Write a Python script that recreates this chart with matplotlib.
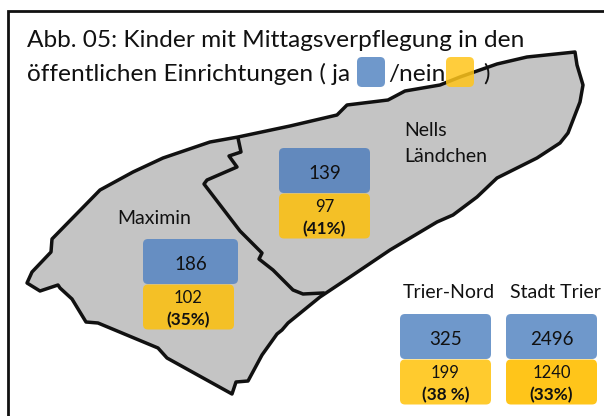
import matplotlib
matplotlib.use("Agg")
import matplotlib.pyplot as plt
from matplotlib.patches import Polygon, FancyBboxPatch

W, H = 604, 416
plt.rcParams['font.family'] = ['Lato', 'DejaVu Sans']

outer_x = [238,290,337,347,388,405,440,460,497,527,575,577,583,580,568,560,537,497,477,453,437,390,350,320,288,282,277,262,248,236,232,167,158,98,86,72,60,58,40,27,32,51,52,100,133,163,210]
outer_y = [137,126,115,105,100,91,85,77,64,57,52,65,85,102,133,143,158,178,197,215,222,250,277,297,323,330,334,355,381,382,394,358,348,323,322,299,288,285,291,283,272,252,239,190,172,158,142]
inner_x = [238,241,229,237,207,204,240,262,259,273,293,303,323]
inner_y = [138,152,156,167,180,184,231,253,259,270,290,294,293]

groups = ['Nells', 'Ländchen', 'Maximin', 'Trier-Nord', 'Stadt Trier']
ja = ['139', '186', '325', '2496']
nein = ['97', '102', '199', '1240']
pct = ['(41%)', '(35%)', '(38 %)', '(33%)']
box_left = [279, 143, 400, 506]
box_top = [148, 239, 314, 314]
blue = ['#6289bd', '#668ec2', '#6f98cb', '#6f98cb']
yellow = ['#f4c026', '#f4c026', '#ffcb2e', '#ffc51a']

fig = plt.figure(figsize=(W/100, H/100), dpi=100)
ax = fig.add_axes([0, 0, 1, 1])
ax.set_xlim(0, W); ax.set_ylim(H, 0); ax.axis('off')
INK = '#111111'

ax.plot([7.5, 7.5, W], [H, 11, 11], color=INK, lw=2.0, solid_joinstyle='miter')
ax.add_patch(Polygon(list(zip(outer_x, outer_y)), closed=True, fc='#c4c4c4', ec=INK, lw=2.5, joinstyle='round'))
ax.plot(inner_x, inner_y, color=INK, lw=2.5, solid_joinstyle='round')

def box(x, y, w, h, c, alpha=1):
    ax.add_patch(FancyBboxPatch((x+4, y+4), w-8, h-8, boxstyle='round,pad=4,rounding_size=5', fc=c, ec='none', alpha=alpha, zorder=3))

def label(x, y, s, fs, ha='left', **kw):
    ax.text(x, y, s, fontsize=fs, va='baseline', ha=ha, color=INK, zorder=5, **kw)

fs_title = 17.6
label(27, 47, 'Abb. 05: Kinder mit Mittagsverpflegung in den', fs_title)
label(27, 81, 'öffentlichen Einrichtungen ( ja', fs_title)
box(357, 57, 28, 30, '#6f98cb')
label(388, 81, '/nein', fs_title)
box(446, 57, 28, 30, '#ffc51a', alpha=0.85)
label(483, 81, ')', fs_title)

label(404, 136, groups[0], 14)
label(404, 162, groups[1], 14)
label(117, 224, groups[2], 14)
label(449, 298, groups[3], 14, ha='center')
label(555, 298, groups[4], 14, ha='center')

for i in range(4):
    x, y = box_left[i], box_top[i]
    w_top = 95 if i == 1 else 91
    box(x, y, w_top, 45, blue[i])
    box(x, y+45.5, 91, 45, yellow[i])
    label(x + w_top/2, y+31, ja[i], 13.5, ha='center')
    label(x + 45.5, y+64, nein[i], 12, ha='center')
    label(x + 45.5, y+86, pct[i], 12.3, ha='center', fontweight='bold')

fig.savefig('out.png', dpi=100)
